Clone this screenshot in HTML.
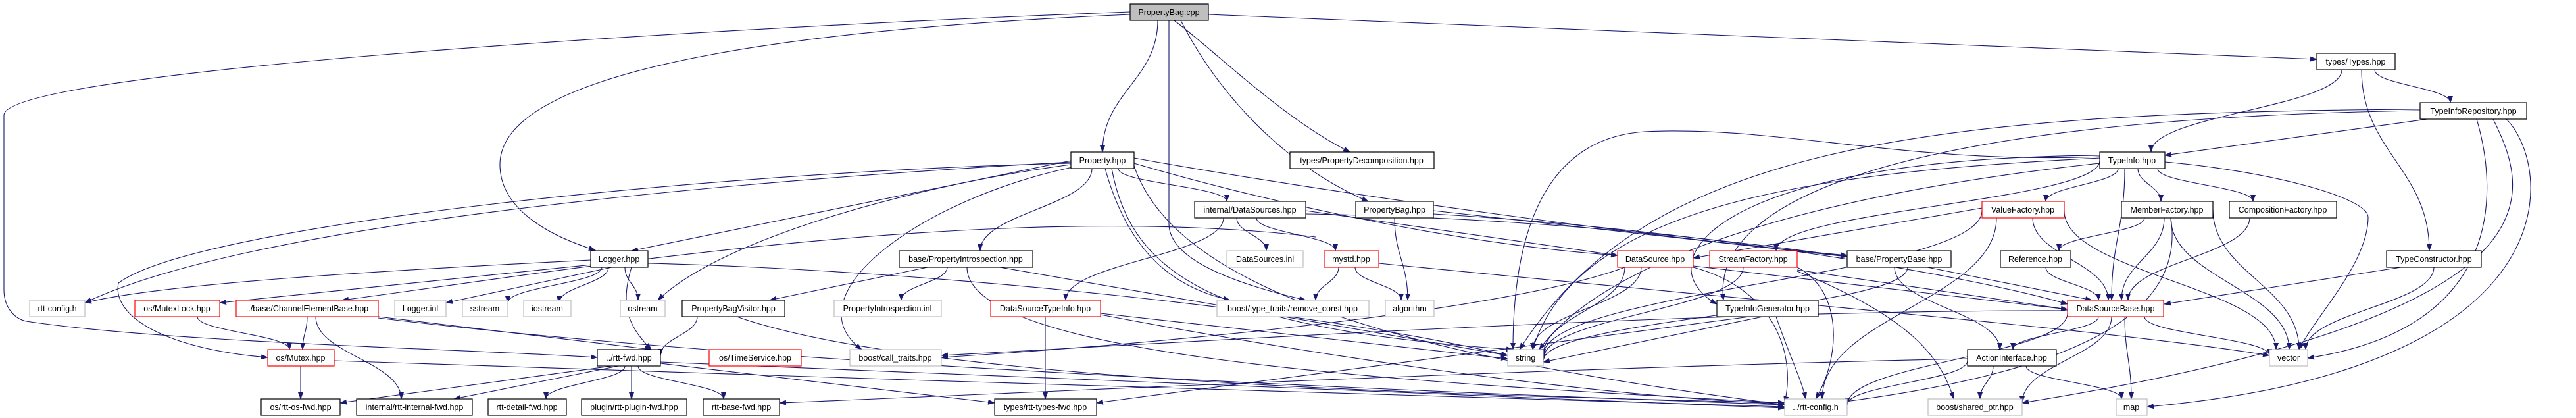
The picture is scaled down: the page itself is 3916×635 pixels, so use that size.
<!DOCTYPE html>
<html><head><meta charset="utf-8"><style>
html,body{margin:0;padding:0;background:#fff;}
svg{display:block;}
text{font-family:"Liberation Sans",sans-serif;font-size:12.5px;text-anchor:middle;fill:#000;}
.b{fill:#fff;stroke:#000;stroke-width:1.2}
.g{fill:#fff;stroke:#bfbfbf;stroke-width:1.2}
.r{fill:#fff;stroke:#ff0000;stroke-width:1.2}
.e{fill:none;stroke:#191970;stroke-width:1.1}
</style></head><body>
<svg id="s" width="3916" height="635" viewBox="0 0 3916 635" xmlns="http://www.w3.org/2000/svg">
<defs><marker id="a" markerUnits="userSpaceOnUse" markerWidth="11" markerHeight="8" refX="10" refY="4" orient="auto"><path d="M0,0 L11,4 L0,8 z" fill="#191970"/></marker></defs>
<g id="edges"></g>
<g id="nodes">
<rect x="1718" y="6" width="119" height="25" fill="#bfbfbf" stroke="#000" stroke-width="1.2"/><text x="1777" y="23">PropertyBag.cpp</text>
<rect class="b" x="3522" y="81" width="119" height="25"/><text x="3581" y="98">types/Types.hpp</text>
<rect class="b" x="3679" y="156" width="162" height="25"/><text x="3760" y="173">TypeInfoRepository.hpp</text>
<rect class="b" x="1628" y="231" width="96" height="25"/><text x="1676" y="248">Property.hpp</text>
<rect class="b" x="1961" y="231" width="219" height="25"/><text x="2070" y="248">types/PropertyDecomposition.hpp</text>
<rect class="b" x="3192" y="231" width="99" height="25"/><text x="3241" y="248">TypeInfo.hpp</text>
<rect class="b" x="1816" y="306" width="169" height="25"/><text x="1900" y="323">internal/DataSources.hpp</text>
<rect class="b" x="2061" y="306" width="118" height="25"/><text x="2120" y="323">PropertyBag.hpp</text>
<rect class="r" x="3013" y="306" width="125" height="25"/><text x="3075" y="323">ValueFactory.hpp</text>
<rect class="b" x="3225" y="306" width="139" height="25"/><text x="3294" y="323">MemberFactory.hpp</text>
<rect class="b" x="3389" y="306" width="163" height="25"/><text x="3470" y="323">CompositionFactory.hpp</text>
<rect class="b" x="898" y="381" width="87" height="25"/><text x="941" y="398">Logger.hpp</text>
<rect class="b" x="1367" y="381" width="203" height="25"/><text x="1468" y="398">base/PropertyIntrospection.hpp</text>
<rect class="g" x="1865" y="381" width="116" height="25"/><text x="1923" y="398">DataSources.inl</text>
<rect class="r" x="2013" y="381" width="83" height="25"/><text x="2054" y="398">mystd.hpp</text>
<rect class="r" x="2459" y="381" width="115" height="25"/><text x="2516" y="398">DataSource.hpp</text>
<rect class="r" x="2599" y="381" width="133" height="25"/><text x="2665" y="398">StreamFactory.hpp</text>
<rect class="b" x="2808" y="381" width="158" height="25"/><text x="2887" y="398">base/PropertyBase.hpp</text>
<rect class="b" x="3041" y="381" width="107" height="25"/><text x="3094" y="398">Reference.hpp</text>
<rect class="b" x="3628" y="381" width="144" height="25"/><text x="3700" y="398">TypeConstructor.hpp</text>
<rect class="g" x="45" y="456" width="84" height="25"/><text x="87" y="473">rtt-config.h</text>
<rect class="r" x="205" y="456" width="129" height="25"/><text x="269" y="473">os/MutexLock.hpp</text>
<rect class="r" x="359" y="456" width="216" height="25"/><text x="467" y="473">../base/ChannelElementBase.hpp</text>
<rect class="g" x="600" y="456" width="78" height="25"/><text x="639" y="473">Logger.inl</text>
<rect class="g" x="703" y="456" width="69" height="25"/><text x="737" y="473">sstream</text>
<rect class="g" x="796" y="456" width="72" height="25"/><text x="832" y="473">iostream</text>
<rect class="g" x="943" y="456" width="68" height="25"/><text x="977" y="473">ostream</text>
<rect class="b" x="1037" y="456" width="156" height="25"/><text x="1115" y="473">PropertyBagVisitor.hpp</text>
<rect class="g" x="1268" y="456" width="163" height="25"/><text x="1349" y="473">PropertyIntrospection.inl</text>
<rect class="r" x="1506" y="456" width="167" height="25"/><text x="1589" y="473">DataSourceTypeInfo.hpp</text>
<rect class="g" x="1850" y="456" width="231" height="25"/><text x="1965" y="473">boost/type_traits/remove_const.hpp</text>
<rect class="g" x="2106" y="456" width="74" height="25"/><text x="2143" y="473">algorithm</text>
<rect class="b" x="2610" y="456" width="154" height="25"/><text x="2687" y="473">TypeInfoGenerator.hpp</text>
<rect class="r" x="3143" y="456" width="146" height="25"/><text x="3216" y="473">DataSourceBase.hpp</text>
<rect class="r" x="407" y="531" width="101" height="25"/><text x="457" y="548">os/Mutex.hpp</text>
<rect class="b" x="908" y="531" width="96" height="25"/><text x="956" y="548">../rtt-fwd.hpp</text>
<rect class="r" x="1078" y="531" width="140" height="25"/><text x="1148" y="548">os/TimeService.hpp</text>
<rect class="g" x="1292" y="531" width="139" height="25"/><text x="1361" y="548">boost/call_traits.hpp</text>
<rect class="g" x="2292" y="531" width="54" height="25"/><text x="2319" y="548">string</text>
<rect class="b" x="2991" y="531" width="135" height="25"/><text x="3058" y="548">ActionInterface.hpp</text>
<rect class="g" x="3450" y="531" width="58" height="25"/><text x="3479" y="548">vector</text>
<rect class="b" x="397" y="606" width="120" height="25"/><text x="457" y="623">os/rtt-os-fwd.hpp</text>
<rect class="b" x="542" y="606" width="176" height="25"/><text x="630" y="623">internal/rtt-internal-fwd.hpp</text>
<rect class="b" x="742" y="606" width="119" height="25"/><text x="801" y="623">rtt-detail-fwd.hpp</text>
<rect class="b" x="884" y="606" width="160" height="25"/><text x="964" y="623">plugin/rtt-plugin-fwd.hpp</text>
<rect class="b" x="1069" y="606" width="116" height="25"/><text x="1127" y="623">rtt-base-fwd.hpp</text>
<rect class="b" x="1512" y="606" width="155" height="25"/><text x="1589" y="623">types/rtt-types-fwd.hpp</text>
<rect class="g" x="2713" y="606" width="95" height="25"/><text x="2760" y="623">../rtt-config.h</text>
<rect class="g" x="2931" y="606" width="143" height="25"/><text x="3002" y="623">boost/shared_ptr.hpp</text>
<rect class="g" x="3217" y="606" width="47" height="25"/><text x="3240" y="623">map</text>
</g>
</svg>
<script>
var E=[
[1760,31,1676,231],[1718,22,905,380,'M1718,22 C1300,40 760,90 760,250 C760,320 840,360 905,380'],
[1718,18,908,543,'M1718,18 C1000,45 6,110 6,175 L6,440 C6,470 25,485 40,488 C250,520 700,530 908,543'],
[1837,22,3522,90],[1785,31,2052,231,'M1785,31 C1850,80 1950,180 2052,231'],[1795,31,2080,306,'M1795,31 C1850,140 1950,250 2080,306'],
[1777,31,1985,456,'M1777,31 L1777,340 C1777,380 1830,420 1985,456'],
[1660,256,1490,381],[1700,256,1865,306],[1628,244,960,381],[1628,246,129,460,'M1628,246 C1200,270 400,330 129,460'],
[1628,248,407,543,'M1628,248 C1100,260 300,340 180,430 C170,480 250,530 407,543'],[1628,250,1000,456,'M1628,250 C1400,280 1100,360 1000,456'],
[1640,252,1310,531,'M1640,252 C1400,300 1200,450 1310,531'],[1680,256,1870,456,'M1680,256 C1720,400 1800,440 1870,456'],
[1690,256,2300,531,'M1690,256 C1720,420 1850,500 2300,531'],[1724,240,2808,388,'M1724,240 C2000,290 2500,360 2808,388'],
[1724,248,2459,388,'M1724,248 C1900,300 2200,370 2459,388'],[1724,252,2713,615,'M1724,252 C1800,480 2300,560 2713,615'],
[930,406,87,456,'M898,395 C600,410 250,430 129,460'],[900,402,334,460],[930,406,678,460],[915,406,772,460],[925,406,850,460],[950,406,970,456],
[960,406,990,531,'M960,406 C940,470 960,500 990,531'],[985,400,2292,540,'M985,400 C1400,410 2000,470 2292,540'],
[1560,365,520,456,'M2000,360 C1500,300 800,420 520,456'],
[467,481,460,531],[480,481,610,606],[575,481,990,531],[575,483,2713,615,'M575,483 C1200,560 2300,600 2713,615'],
[300,481,440,531],[457,556,457,606],[508,548,2713,618,'M508,548 C1200,570 2300,610 2713,618'],
[930,556,517,612],[940,556,690,606],[950,556,830,606],[960,556,960,606],[970,556,1100,606],[1004,552,1512,612],[1004,550,2713,620,'M1004,550 C1700,580 2300,600 2713,620'],
[1060,481,1004,540],[1120,481,2713,612,'M1120,481 C1400,580 2200,600 2713,612'],
[1410,406,1170,456],[1440,406,1370,456],[1470,406,2713,612,'M1470,406 C1470,540 2100,580 2713,612'],[1520,406,2292,540],
[1860,331,1620,456],[1880,331,1925,381],[1910,331,2030,381],[1985,320,2459,388],[1985,325,2808,390,'M1985,325 C2300,330 2600,360 2808,390'],
[1589,481,1589,606],[1673,476,2292,545],[1673,478,2713,614,'M1673,478 C2000,540 2400,600 2713,614'],
[2060,406,2130,456],[2035,406,2000,456],[2096,400,3450,540,'M2096,400 C2700,460 3200,500 3450,540'],
[2120,331,2140,456],[2179,320,2808,390],[2179,325,3143,462,'M2179,325 C2600,350 3000,420 3143,462'],
[2495,406,2330,531],[2470,406,2346,540],[2574,406,2713,612,'M2574,406 C2700,440 2730,540 2713,612'],[2574,404,3143,470],[2470,406,1431,543,'M2470,406 C2300,470 1800,520 1431,543'],
[2650,406,2346,545],[2732,406,2760,606,'M2732,406 C2800,440 2800,540 2760,606'],[2732,410,3143,470],[2732,412,3010,606,'M2732,412 C2900,480 2950,540 2970,606'],
[2930,406,3180,456],[2900,406,2346,548],[2880,406,3040,531],
[2680,481,2346,550],[2700,481,2713,612,'M2700,481 C2720,540 2740,580 2745,606'],[2660,481,1667,612],
[3190,481,3060,531],[3260,481,3450,540],[3230,481,3240,606],[3210,481,3074,612],[3143,476,2808,615],[3143,472,1431,540,'M3143,472 C2600,470 1800,520 1431,540'],
[3030,556,3010,606],[3080,556,3225,606],[2991,548,2808,615],[2991,545,1185,612,'M2991,545 C2300,560 1500,600 1185,612'],
[3110,406,3190,456],[3090,331,3205,456],[3138,320,3460,531],[3013,320,2346,540],[3035,331,2770,606],[3013,316,2574,392],
[3260,331,3130,381],[3290,331,3225,456],[3300,331,3480,531],[3300,331,2790,612,'M3300,331 C3320,460 3200,560 2790,612'],[3420,331,3235,456],[3364,318,3495,531],
[3220,256,3110,306],[3250,256,3285,306],[3280,256,3425,306],[3230,256,3210,456],[3291,246,3495,531,'M3291,246 C3450,260 3600,300 3600,330 C3600,400 3520,480 3495,531'],
[3192,244,2700,381],[3192,240,2346,540,'M3192,240 C2800,260 2400,300 2330,531'],[3192,236,2610,462,'M3192,236 C2600,240 2500,400 2610,462'],
[3192,238,2292,531,'M3192,238 C2900,250 2700,190 2500,200 C2350,210 2300,350 2300,531'],[3192,248,2350,540,'M3192,248 C2800,290 2450,380 2340,531'],
[3650,406,3290,462],[3700,406,3505,531],
[3690,181,3291,236],[3679,168,2610,462,'M3679,168 C2900,180 2600,300 2620,456'],[3679,166,2310,531,'M3679,166 C2900,170 2500,230 2310,531'],
[3765,181,3508,544,'M3765,181 C3800,300 3800,500 3508,544'],[3790,181,3074,612,'M3790,181 C3850,300 3900,480 3074,612'],[3810,181,3264,618,'M3810,181 C3880,250 3920,560 3264,618'],
[3560,106,3270,231],[3610,106,3725,156],[3590,106,3693,381]
];
var g=document.getElementById('edges'),h='';
E.forEach(function(e){var d;if(e[4])d=e[4];else{var x1=e[0],y1=e[1],x2=e[2],y2=e[3],dy=y2-y1,dx=x2-x1;
if(Math.abs(dy)>Math.abs(dx)*0.25){var k=dy*0.45;d='M'+x1+','+y1+' C'+x1+','+(y1+k)+' '+x2+','+(y2-k)+' '+x2+','+y2;}
else d='M'+x1+','+y1+' L'+x2+','+y2;}
h+='<path class="e" d="'+d+'" marker-end="url(#a)"/>';});
g.innerHTML=h;
</script>
</body></html>
